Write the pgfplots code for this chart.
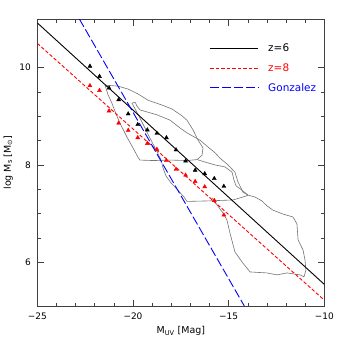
\documentclass[border=0pt]{standalone}
\usepackage{pgfplots}
\pgfplotsset{compat=1.18}
\usepackage{fontspec}
\setmainfont{DejaVu Sans}
\definecolor{gblue}{rgb}{0,0,1}
\definecolor{cgray}{rgb}{0.45,0.45,0.45}
\begin{document}
\begin{tikzpicture}
\begin{axis}[
  scale only axis, width=287bp, height=287bp,
  xmin=-25, xmax=-10, ymin=5.1, ymax=11,
  xtick={-25,-20,-15,-10}, xticklabels={−25,−20,−15,−10},
  ytick={6,8,10}, yticklabels={6,8,10},
  minor x tick num=4, minor y tick num=3,
  tick align=inside,
  major tick length=6.5bp, minor tick length=3.5bp,
  axis line style={black!75, line width=0.5bp},
  every tick/.style={black!75, line width=0.5bp},
  tick label style={font=\fontsize{9}{10}\selectfont},
  every x tick label/.append style={anchor=center, yshift=-10bp},
  every y tick label/.append style={anchor=east, xshift=-3bp},
  every axis x label/.style={at={(axis description cs:0.5,-0.087)}, anchor=center, font=\fontsize{9.5}{11}\selectfont},
  every axis y label/.style={at={(axis description cs:-0.101,0.5)}, rotate=90, anchor=center, font=\fontsize{9.5}{11}\selectfont},
  xlabel={M\textsubscript{UV} [Mag]},
  ylabel={log M\textsubscript{s} [M\textsubscript{⊙}]},
  clip=true,
]
% contour lines
\addplot[draw=cgray, line width=0.6bp] coordinates {
(-21.46,9.64) (-21.30,9.44) (-21.10,9.27) (-20.89,9.05) (-20.68,8.86) (-20.31,8.57)
(-20.00,8.35) (-19.74,8.16) (-19.63,8.10) (-18.95,8.09) (-18.06,8.10) (-17.18,8.09)
(-16.65,8.11) (-16.24,8.06) (-15.71,8.00) (-15.19,7.96) (-14.82,7.85) (-14.72,7.69)
(-14.61,7.57) (-14.30,7.48) (-13.99,7.38)};
\addplot[draw=cgray, line width=0.6bp] coordinates {
(-21.46,9.64) (-20.78,9.62) (-20.26,9.56) (-19.74,9.46) (-19.21,9.33) (-18.48,9.23)
(-17.96,9.15) (-17.44,9.01) (-17.18,8.92) (-16.86,8.72) (-16.60,8.51) (-16.34,8.35)
(-16.39,8.20) (-16.65,8.11)};
\addplot[draw=cgray, line width=0.6bp] coordinates {
(-20.05,9.27) (-19.89,9.29) (-19.79,9.21) (-19.63,9.13) (-19.27,9.09) (-18.74,9.03)
(-18.06,8.92) (-17.54,8.76) (-17.18,8.66) (-16.50,8.51) (-16.08,8.37) (-15.71,8.25)
(-15.45,8.14) (-15.03,8.00) (-14.67,7.85) (-14.51,7.65) (-14.25,7.44) (-13.99,7.38)
(-13.62,7.34) (-13.26,7.26) (-13.00,7.16) (-12.68,7.07) (-12.16,6.99) (-11.64,6.93)
(-11.43,6.79) (-11.37,6.46) (-11.11,6.25) (-11.01,6.05) (-10.96,5.84) (-11.06,5.70)
(-11.27,5.74) (-11.95,5.78) (-12.47,5.74) (-13.00,5.78) (-13.88,5.80) (-14.25,5.98)
(-14.67,6.21) (-14.93,6.60) (-15.09,6.87) (-15.29,7.01) (-15.61,7.18) (-15.87,7.32)};
\addplot[draw=cgray, line width=0.6bp] coordinates {
(-20.05,9.27) (-19.63,8.96) (-19.11,8.55) (-18.74,8.27) (-18.53,8.10) (-18.43,7.94)
(-18.27,7.77) (-18.01,7.63) (-17.65,7.48) (-17.33,7.34) (-17.18,7.25) (-16.13,7.26)
(-14.77,7.28) (-14.09,7.36) (-13.99,7.38)};
% fits
\addplot[draw=black, line width=0.9bp] coordinates {(-25,10.92) (-10,5.545)};
\addplot[draw=red, line width=0.9bp, dash pattern=on 3.5bp off 2bp] coordinates {(-25,10.50) (-10,5.22)};
\addplot[draw=gblue, line width=0.9bp, dash pattern=on 9bp off 3bp] coordinates {(-22.80,11) (-14.18,5.1)};
% points
\addplot[only marks, mark=triangle*, mark size=2.3bp, black] coordinates {
(-22.25,10.03) (-21.75,9.82) (-21.25,9.58) (-20.75,9.34) (-20.25,9.05) (-19.75,8.83)
(-19.25,8.72) (-18.75,8.65) (-18.25,8.56) (-17.75,8.31) (-17.25,8.08) (-16.75,7.89)
(-16.25,7.82) (-15.75,7.72) (-15.25,7.56)};
\addplot[only marks, mark=triangle*, mark size=2.3bp, red] coordinates {
(-22.25,9.63) (-21.75,9.53) (-21.25,9.11) (-20.75,8.86) (-20.25,8.71) (-19.75,8.56)
(-19.25,8.44) (-18.75,8.32) (-18.25,8.09) (-17.75,7.91) (-17.25,7.79) (-16.75,7.66)
(-16.25,7.55) (-15.75,7.27) (-15.25,6.97)};
% legend
\addplot[draw=black, line width=0.9bp] coordinates {(-15.97,10.40) (-13.46,10.40)};
\addplot[draw=red, line width=0.9bp, dash pattern=on 3.5bp off 2bp] coordinates {(-15.97,9.99) (-13.46,9.99)};
\draw[gblue, line width=1bp, dash pattern=on 9bp off 3bp] (axis cs:-15.97,9.585) -- (axis cs:-13.46,9.585);
\node[anchor=west, inner sep=0pt, text=black, font=\fontsize{10.5}{12}\selectfont] at (axis cs:-12.94,10.40) {z=6};
\node[anchor=west, inner sep=0pt, text=red, font=\fontsize{10.5}{12}\selectfont] at (axis cs:-12.94,9.99) {z=8};
\node[anchor=west, inner sep=0pt, text=gblue, font=\fontsize{10.5}{12}\selectfont] at (axis cs:-12.94,9.59) {Gonzalez};
\end{axis}
\path (-37.3bp,-37bp) rectangle (305.7bp,306bp);
\end{tikzpicture}
\end{document}
